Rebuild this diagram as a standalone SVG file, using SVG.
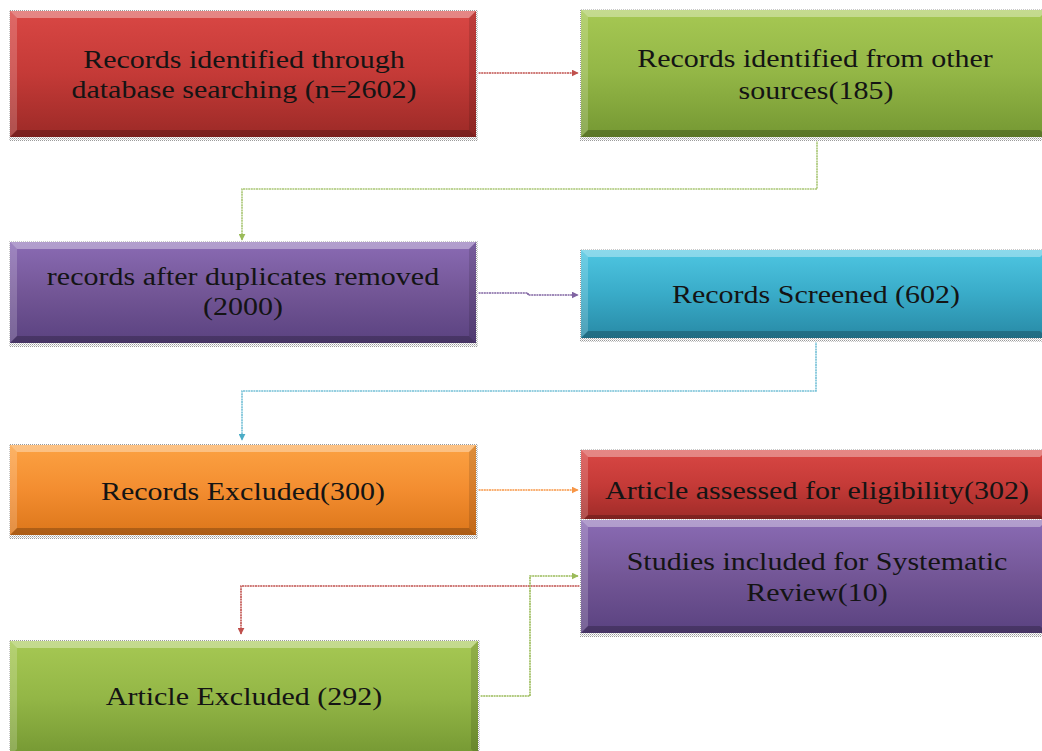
<svg xmlns="http://www.w3.org/2000/svg" width="1042" height="751" viewBox="0 0 1042 751">
<defs>
  <linearGradient id="gRed" x1="0" y1="0" x2="0" y2="1">
    <stop offset="0" stop-color="#d94744"/><stop offset="0.5" stop-color="#c43a37"/><stop offset="1" stop-color="#9c2a27"/>
  </linearGradient>
  <linearGradient id="gGreen" x1="0" y1="0" x2="0" y2="1">
    <stop offset="0" stop-color="#a6c853"/><stop offset="0.5" stop-color="#93b646"/><stop offset="1" stop-color="#759833"/>
  </linearGradient>
  <linearGradient id="gPurple" x1="0" y1="0" x2="0" y2="1">
    <stop offset="0" stop-color="#8a6bb4"/><stop offset="0.5" stop-color="#735696"/><stop offset="1" stop-color="#5a4280"/>
  </linearGradient>
  <linearGradient id="gTeal" x1="0" y1="0" x2="0" y2="1">
    <stop offset="0" stop-color="#4ec6e2"/><stop offset="0.5" stop-color="#39abc8"/><stop offset="1" stop-color="#288aa6"/>
  </linearGradient>
  <linearGradient id="gOrange" x1="0" y1="0" x2="0" y2="1">
    <stop offset="0" stop-color="#fca243"/><stop offset="0.5" stop-color="#f38d30"/><stop offset="1" stop-color="#dc761a"/>
  </linearGradient>
  <pattern id="dots" width="2" height="2" patternUnits="userSpaceOnUse">
    <rect width="2" height="2" fill="#ffffff"/>
    <rect width="1" height="1" fill="#9a9a9a"/>
    <rect x="1" y="1" width="1" height="1" fill="#c8c8c8"/>
  </pattern>
  <marker id="aRed" viewBox="0 0 10 10" refX="9" refY="5" markerWidth="7" markerHeight="7" markerUnits="userSpaceOnUse" orient="auto"><path d="M0,0 L10,5 L0,10 z" fill="#c0504d"/></marker>
  <marker id="aGreen" viewBox="0 0 10 10" refX="9" refY="5" markerWidth="7" markerHeight="7" markerUnits="userSpaceOnUse" orient="auto"><path d="M0,0 L10,5 L0,10 z" fill="#9bbb59"/></marker>
  <marker id="aPurple" viewBox="0 0 10 10" refX="9" refY="5" markerWidth="7" markerHeight="7" markerUnits="userSpaceOnUse" orient="auto"><path d="M0,0 L10,5 L0,10 z" fill="#8064a2"/></marker>
  <marker id="aTeal" viewBox="0 0 10 10" refX="9" refY="5" markerWidth="7" markerHeight="7" markerUnits="userSpaceOnUse" orient="auto"><path d="M0,0 L10,5 L0,10 z" fill="#4bacc6"/></marker>
  <marker id="aOrange" viewBox="0 0 10 10" refX="9" refY="5" markerWidth="7" markerHeight="7" markerUnits="userSpaceOnUse" orient="auto"><path d="M0,0 L10,5 L0,10 z" fill="#f79646"/></marker>
</defs>
<style>
  .shadow { fill: url(#dots); }
  .red { fill: url(#gRed); }
  .green { fill: url(#gGreen); }
  .purple { fill: url(#gPurple); }
  .teal { fill: url(#gTeal); }
  .orange { fill: url(#gOrange); }
  .bt { fill: #ffffff; fill-opacity: 0.35; }
  .bl { fill: #ffffff; fill-opacity: 0.18; }
  .br { fill: #000000; fill-opacity: 0.12; }
  .bb { fill: #000000; fill-opacity: 0.22; }
  .lbl { font-family: "Liberation Serif", "Times New Roman", serif; font-size: 25px; fill: #141414; text-anchor: middle; }
  .c { fill: none; stroke-width: 1.6; stroke-dasharray: 2 0.6; }
</style>
<rect width="1042" height="751" fill="#ffffff"/>

<g id="connectors">
  <path class="c" d="M476,73 H578" stroke="#c0504d" marker-end="url(#aRed)"/>
  <path class="c" d="M817,137 V189 H242 V240" stroke="#a9c674" marker-end="url(#aGreen)"/>
  <path class="c" d="M476,293 H528 V295 H578" stroke="#8064a2" marker-end="url(#aPurple)"/>
  <path class="c" d="M816,338 V391 H242 V440" stroke="#74c0d6" marker-end="url(#aTeal)"/>
  <path class="c" d="M476,490 H578" stroke="#f79646" marker-end="url(#aOrange)"/>
  <path class="c" d="M582,586 H241 V634" stroke="#c0504d" marker-end="url(#aRed)"/>
  <path class="c" d="M478,696 H530 V576 H578" stroke="#9bbb59" marker-end="url(#aGreen)"/>
</g>

<g id="node1">
  <rect class="shadow" x="9" y="10" width="469" height="131"/>
  <rect class="red" x="10" y="11" width="466" height="126"/>
  <polygon class="bt" points="10,11 476,11 469,18 17,18"/>
  <polygon class="bl" points="10,11 17,18 17,130 10,137"/>
  <polygon class="br" points="476,11 476,137 469,130 469,18"/>
  <polygon class="bb" points="10,137 476,137 469,130 17,130"/>
  <text class="lbl" transform="matrix(1.2 0 0 1 244 68)">Records identified through</text>
  <text class="lbl" transform="matrix(1.2 0 0 1 244 98)">database searching (n=2602)</text>
</g>

<g id="node2">
  <rect class="shadow" x="580" y="9" width="470" height="132"/>
  <rect class="green" x="581" y="10" width="466" height="127"/>
  <polygon class="bt" points="581,10 1047,10 1040,17 588,17"/>
  <polygon class="bl" points="581,10 588,17 588,130 581,137"/>
  <polygon class="bb" points="581,137 1047,137 1040,130 588,130"/>
  <text class="lbl" transform="matrix(1.2 0 0 1 815 67)">Records identified from other</text>
  <text class="lbl" transform="matrix(1.2 0 0 1 816 99)">sources(185)</text>
</g>

<g id="node3">
  <rect class="shadow" x="9" y="241" width="469" height="106"/>
  <rect class="purple" x="10" y="242" width="466" height="101"/>
  <polygon class="bt" points="10,242 476,242 469,249 17,249"/>
  <polygon class="bl" points="10,242 17,249 17,336 10,343"/>
  <polygon class="br" points="476,242 476,343 469,336 469,249"/>
  <polygon class="bb" points="10,343 476,343 469,336 17,336"/>
  <text class="lbl" transform="matrix(1.2 0 0 1 243 285)">records after duplicates removed</text>
  <text class="lbl" transform="matrix(1.2 0 0 1 243 315)">(2000)</text>
</g>

<g id="node4">
  <rect class="shadow" x="580" y="249" width="470" height="93"/>
  <rect class="teal" x="581" y="250" width="466" height="88"/>
  <polygon class="bt" points="581,250 1047,250 1040,257 588,257"/>
  <polygon class="bl" points="581,250 588,257 588,331 581,338"/>
  <polygon class="bb" points="581,338 1047,338 1040,331 588,331"/>
  <text class="lbl" transform="matrix(1.2 0 0 1 816 303)">Records Screened (602)</text>
</g>

<g id="node5">
  <rect class="shadow" x="9" y="444" width="469" height="95"/>
  <rect class="orange" x="10" y="445" width="466" height="90"/>
  <polygon class="bt" points="10,445 476,445 469,452 17,452"/>
  <polygon class="bl" points="10,445 17,452 17,528 10,535"/>
  <polygon class="br" points="476,445 476,535 469,528 469,452"/>
  <polygon class="bb" points="10,535 476,535 469,528 17,528"/>
  <text class="lbl" transform="matrix(1.2 0 0 1 243 500)">Records Excluded(300)</text>
</g>

<g id="node6">
  <rect class="shadow" x="580" y="449" width="470" height="77"/>
  <rect class="red" x="581" y="450" width="466" height="72"/>
  <polygon class="bt" points="581,450 1047,450 1040,457 588,457"/>
  <polygon class="bl" points="581,450 588,457 588,515 581,522"/>
  <polygon class="bb" points="581,522 1047,522 1040,515 588,515"/>
  <text class="lbl" transform="matrix(1.2 0 0 1 817 499)">Article assessed for eligibility(302)</text>
</g>

<g id="node7">
  <rect class="shadow" x="580" y="519" width="470" height="118"/>
  <rect class="purple" x="581" y="520" width="466" height="113"/>
  <polygon class="bt" points="581,520 1047,520 1040,527 588,527"/>
  <polygon class="bl" points="581,520 588,527 588,626 581,633"/>
  <polygon class="bb" points="581,633 1047,633 1040,626 588,626"/>
  <text class="lbl" transform="matrix(1.2 0 0 1 817 570)">Studies included for Systematic</text>
  <text class="lbl" transform="matrix(1.2 0 0 1 817 601)">Review(10)</text>
</g>

<g id="node8">
  <rect class="shadow" x="9" y="640" width="471" height="120"/>
  <rect class="green" x="10" y="641" width="468" height="115"/>
  <polygon class="bt" points="10,641 478,641 471,648 17,648"/>
  <polygon class="bl" points="10,641 17,648 17,749 10,756"/>
  <polygon class="br" points="478,641 478,756 471,749 471,648"/>
  <text class="lbl" transform="matrix(1.2 0 0 1 244 705)">Article Excluded (292)</text>
</g>
</svg>
